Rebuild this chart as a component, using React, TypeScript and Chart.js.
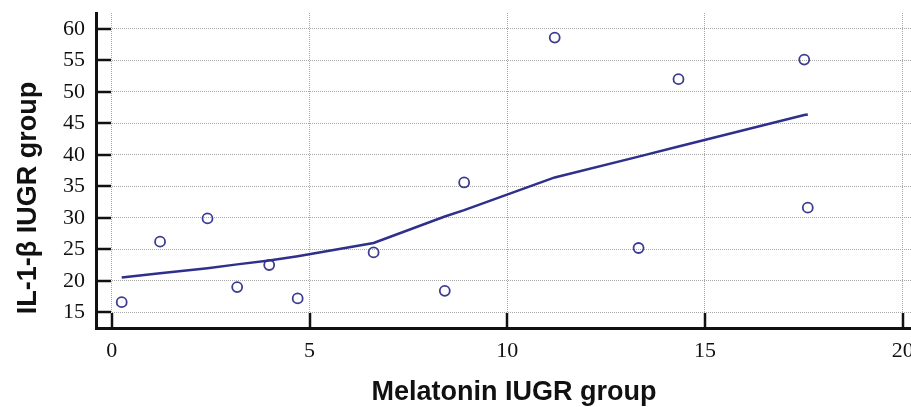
import React, { useEffect, useRef } from "react";
import { Chart, registerables } from "chart.js";

Chart.register(...registerables);

// Observed data (Melatonin IUGR group vs IL-1-β IUGR group)
const melatonin = [0.25, 1.22, 2.42, 3.17, 3.98, 4.7, 6.62, 8.42, 8.91, 11.2, 13.32, 14.33, 17.51, 17.6];
const il1b = [16.6, 26.2, 29.9, 19.0, 22.5, 17.2, 24.5, 18.4, 35.6, 58.6, 25.2, 52.0, 55.1, 31.6];

// Smoothed fit line evaluated at the same x values
const fitX = [0.25, 1.22, 2.42, 3.17, 3.98, 4.7, 6.62, 8.42, 8.91, 11.2, 13.32, 14.33, 17.51, 17.6];
const fitY = [20.5, 21.2, 22.0, 22.6, 23.2, 23.9, 26.0, 30.2, 31.2, 36.4, 39.7, 41.3, 46.3, 46.4];

// Tick labels
const xTicks = [0, 5, 10, 15, 20];
const yTicks = [15, 20, 25, 30, 35, 40, 45, 50, 55, 60];

const xTitle = "Melatonin IUGR group";
const yTitle = "IL-1-β IUGR group";

const X_MIN = -0.4;
const X_MAX = 20.24;
const Y_MIN = 12.5;
const Y_MAX = 62.5;

const INK = "#111111";
const NAVY = "#2f2f8c";
const POINT = "#3c3c90";
const GRID = "#a6a6a6";
const TICK_FONT = "'Liberation Serif', 'Times New Roman', serif";
const TITLE_FONT = "'Liberation Sans', Arial, sans-serif";

const decorPlugin = {
  id: "decor",
  afterDraw(chart: any) {
    const { ctx, chartArea, scales } = chart;
    const xs = scales.x;
    const ys = scales.y;
    ctx.save();
    ctx.strokeStyle = INK;
    ctx.lineWidth = 2.5;
    xs.ticks.forEach((t: any) => {
      const px = Math.round(xs.getPixelForValue(t.value));
      ctx.beginPath();
      ctx.moveTo(px, chartArea.bottom);
      ctx.lineTo(px, chartArea.bottom - 15);
      ctx.stroke();
    });
    ys.ticks.forEach((t: any) => {
      const py = Math.round(ys.getPixelForValue(t.value));
      ctx.beginPath();
      ctx.moveTo(chartArea.left, py);
      ctx.lineTo(chartArea.left + 15, py);
      ctx.stroke();
    });
    ctx.fillStyle = INK;
    ctx.font = `bold 27px ${TITLE_FONT}`;
    ctx.textAlign = "center";
    ctx.textBaseline = "alphabetic";
    ctx.fillText(xTitle, 514, 400);
    ctx.translate(36, 198);
    ctx.rotate(-Math.PI / 2);
    ctx.fillText(yTitle, 0, 0);
    ctx.restore();
  },
};

export default function App() {
  const ref = useRef<HTMLCanvasElement | null>(null);

  useEffect(() => {
    if (!ref.current) return;
    const chart = new Chart(ref.current, {
      type: "scatter",
      data: {
        datasets: [
          {
            type: "line",
            label: "Fit",
            data: fitX.map((x, i) => ({ x, y: fitY[i] })),
            borderColor: NAVY,
            borderWidth: 2.5,
            pointRadius: 0,
            fill: false,
            tension: 0,
          } as any,
          {
            type: "scatter",
            label: "Observed",
            data: melatonin.map((x, i) => ({ x, y: il1b[i] })),
            backgroundColor: "rgba(255,255,255,0)",
            borderColor: POINT,
            borderWidth: 1.8,
            pointRadius: 5,
          },
        ],
      },
      options: {
        responsive: false,
        animation: false,
        devicePixelRatio: 1,
        layout: { padding: { top: 13, right: 0, left: 0, bottom: 0 } },
        plugins: {
          legend: { display: false },
          tooltip: { enabled: false },
        },
        scales: {
          x: {
            type: "linear",
            min: X_MIN,
            max: X_MAX,
            afterBuildTicks: (s: any) => {
              s.ticks = xTicks.map((v) => ({ value: v }));
            },
            afterFit: (s: any) => {
              s.height = 79;
              s.paddingLeft = 0;
              s.paddingRight = 0;
            },
            ticks: {
              padding: 10,
              color: INK,
              font: { family: TICK_FONT, size: 22 },
            },
            grid: {
              color: GRID,
              lineWidth: 1,
              drawTicks: false,
            },
            border: { display: true, color: INK, width: 3, dash: [1, 1] } as any,
          },
          y: {
            type: "linear",
            min: Y_MIN,
            max: Y_MAX,
            afterBuildTicks: (s: any) => {
              s.ticks = yTicks.map((v) => ({ value: v }));
            },
            afterFit: (s: any) => {
              s.width = 96;
              s.paddingTop = 0;
              s.paddingBottom = 0;
            },
            ticks: {
              padding: 11,
              color: INK,
              font: { family: TICK_FONT, size: 22 },
            },
            grid: {
              color: GRID,
              lineWidth: 1,
              drawTicks: false,
            },
            border: { display: true, color: INK, width: 3, dash: [1, 1] } as any,
          },
        },
      },
      plugins: [decorPlugin],
    });
    return () => chart.destroy();
  }, []);

  return (
    <div
      style={{
        position: "fixed",
        left: 0,
        top: 0,
        width: 911,
        height: 407,
        overflow: "hidden",
        background: "#fff",
      }}
    >
      <canvas ref={ref} width={919} height={407} style={{ width: 919, height: 407, display: "block" }} />
    </div>
  );
}
